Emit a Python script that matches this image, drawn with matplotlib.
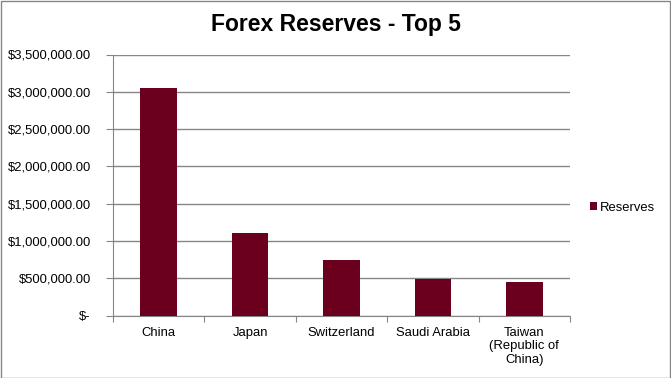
import matplotlib.pyplot as plt
from matplotlib.patches import Rectangle
from matplotlib.ticker import FuncFormatter, MultipleLocator
import numpy as np

# data
countries = ["China", "Japan", "Switzerland", "Saudi Arabia", "Taiwan\n(Republic of\nChina)"]
reserves = [3056000, 1111000, 741000, 491000, 451000]

plt.rcParams['font.family'] = ['Liberation Sans', 'DejaVu Sans']

bar_color = '#6A001E'
axis_color = '#868686'
fs = 9.4

fig = plt.figure(figsize=(6.71, 3.78), dpi=100)
W, H = 671, 378
ax = fig.add_axes([113 / W, 1 - 315.5 / H, (570 - 113) / W, (315.5 - 54.5) / H])

x = np.arange(len(countries))
ax.bar(x, reserves, width=0.4, color=bar_color, zorder=3, label="Reserves")

ax.set_xlim(-0.5, len(countries) - 0.5)
ax.set_ylim(0, 3500000)
ax.yaxis.set_major_locator(MultipleLocator(500000))

def money(v, pos):
    if v == 0:
        return "$-"
    return "${:,.2f}".format(v)

ax.yaxis.set_major_formatter(FuncFormatter(money))
ax.grid(axis='y', color=axis_color, linewidth=1, zorder=0)

# ticks between categories on x axis
ax.set_xticks(np.arange(-0.5, len(countries), 1.0))
ax.set_xticklabels([])
ax.set_xticks(x, minor=True)
ax.set_xticklabels(countries, minor=True, fontsize=fs, linespacing=1.2)
ax.tick_params(axis='x', which='minor', length=0, pad=8)
ax.tick_params(axis='x', which='major', length=4, color=axis_color, direction='out')
ax.tick_params(axis='y', length=5, color=axis_color, labelsize=fs, pad=11)

for side in ['top', 'right']:
    ax.spines[side].set_visible(False)
for side in ['left', 'bottom']:
    ax.spines[side].set_color(axis_color)

fig.text(336 / W, 1 - 25 / H, "Forex Reserves - Top 5", ha='center', va='center',
         fontsize=16.5, fontweight='bold')

leg = fig.legend(loc='center left', bbox_to_anchor=(590 / W, 1 - 208 / H), frameon=False,
                 fontsize=fs, handlelength=0.55, handleheight=0.55, handletextpad=0.2,
                 borderaxespad=0, borderpad=0)

# outer chart border
fig.add_artist(Rectangle((0.5 / W, 0.5 / H), 1 - 1.5 / W, 1 - 1.5 / H, transform=fig.transFigure,
                         fill=False, edgecolor=axis_color, linewidth=1))

fig.savefig("out.png", dpi=100)
